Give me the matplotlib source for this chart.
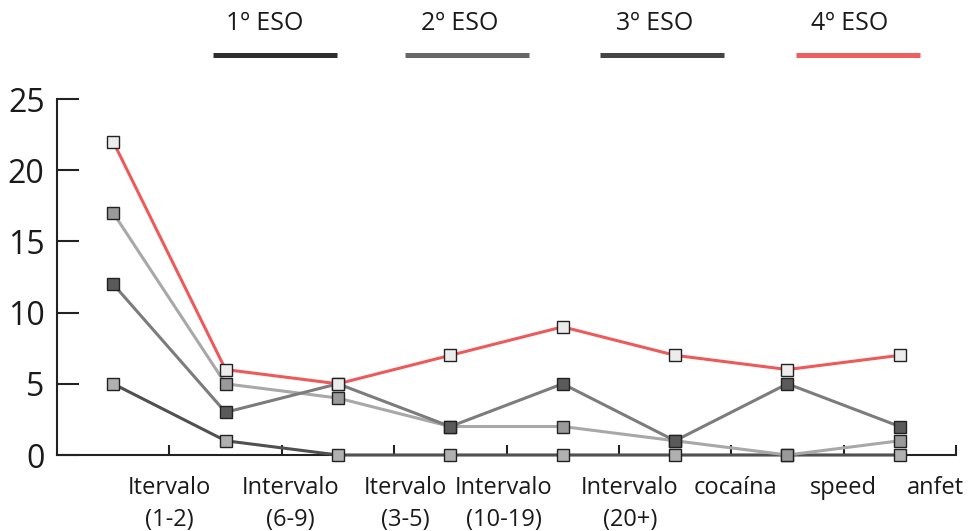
import numpy as np
import matplotlib
matplotlib.use("Agg")
import matplotlib.pyplot as plt
from matplotlib.lines import Line2D
from matplotlib.transforms import ScaledTranslation

# ── Data ──────────────────────────────────────────────────────────────────────

categories = ["Itervalo\n(1-2)", "Intervalo\n(6-9)", "Itervalo\n(3-5)", "Intervalo\n(10-19)",
              "Intervalo\n(20+)", "cocaína", "speed", "anfet"]
eso1 = [5, 1, 0, 0, 0, 0, 0, 0]
eso2 = [17, 5, 4, 2, 2, 1, 0, 1]
eso3 = [12, 3, 5, 2, 5, 1, 5, 2]
eso4 = [22, 6, 5, 7, 9, 7, 6, 7]
legend_labels = ["1º ESO", "2º ESO", "3º ESO", "4º ESO"]
y_ticks = [0, 5, 10, 15, 20, 25]

# ── Style ─────────────────────────────────────────────────────────────────────

plt.rcParams["font.family"] = ["Open Sans", "DejaVu Sans"]
TXT = "#1a1a1a"
AX = "#222222"

series = [
    # values, line colour, marker fill
    (eso1, "#505050", "#b0b0b0"),
    (eso2, "#a8a8a8", "#9a9a9a"),
    (eso3, "#7c7c7c", "#5a5a5a"),
    (eso4, "#ee5a5a", "#ececec"),
]
legend_colors = ["#2e2e2e", "#676767", "#454545", "#ee5f5f"]

W, H = 969, 531
fig = plt.figure(figsize=(W / 100, H / 100), dpi=100)
ax = fig.add_axes([57 / W, (H - 455) / H, (956 - 57) / W, (455 - 99) / H])

x = np.arange(len(categories))
for vals, lc, mc in series:
    ax.plot(x, vals, color=lc, lw=2.2, marker="s", markersize=8.5,
            markerfacecolor=mc, markeredgecolor="#222222", markeredgewidth=1.0,
            clip_on=False, zorder=3)

ax.set_xlim(-0.5, len(categories) - 0.5)
ax.set_ylim(0, 25)

for s in ["top", "right"]:
    ax.spines[s].set_visible(False)
for s in ["left", "bottom"]:
    ax.spines[s].set_color(AX)
    ax.spines[s].set_linewidth(1.5)

ax.set_yticks(y_ticks)
ax.set_yticklabels([str(v) for v in y_ticks])
ax.tick_params(axis="y", direction="in", length=16, width=1.5, color=AX,
               labelsize=23, labelcolor=TXT, pad=9)

ax.set_xticks(x + 0.5)
ax.set_xticklabels(categories, linespacing=1.45)
ax.tick_params(axis="x", direction="in", length=7, width=1.5, color=AX,
               labelsize=17, labelcolor=TXT, pad=15)

# the original labels are not evenly spaced; nudge them (pixels)
nudges = [0, 9, 11, -3, 11, 4, 0, -21]
for lbl, dx in zip(ax.get_xticklabels(), nudges):
    lbl.set_transform(lbl.get_transform() + ScaledTranslation(dx / 100, 0, fig.dpi_scale_trans))

# ── Legend: label above a thick bar ───────────────────────────────────────────

text_x = [265, 460, 655, 850]
bar_x = [275, 467, 662, 858]
for tx, bx, lab, col in zip(text_x, bar_x, legend_labels, legend_colors):
    fig.text(tx / W, 1 - 24 / H, lab, ha="center", va="center", fontsize=18, color=TXT)
    fig.add_artist(Line2D([(bx - 62) / W, (bx + 62) / W], [1 - 55 / H, 1 - 55 / H],
                          color=col, lw=3.6, solid_capstyle="butt"))

fig.savefig("out.png", dpi=100)
